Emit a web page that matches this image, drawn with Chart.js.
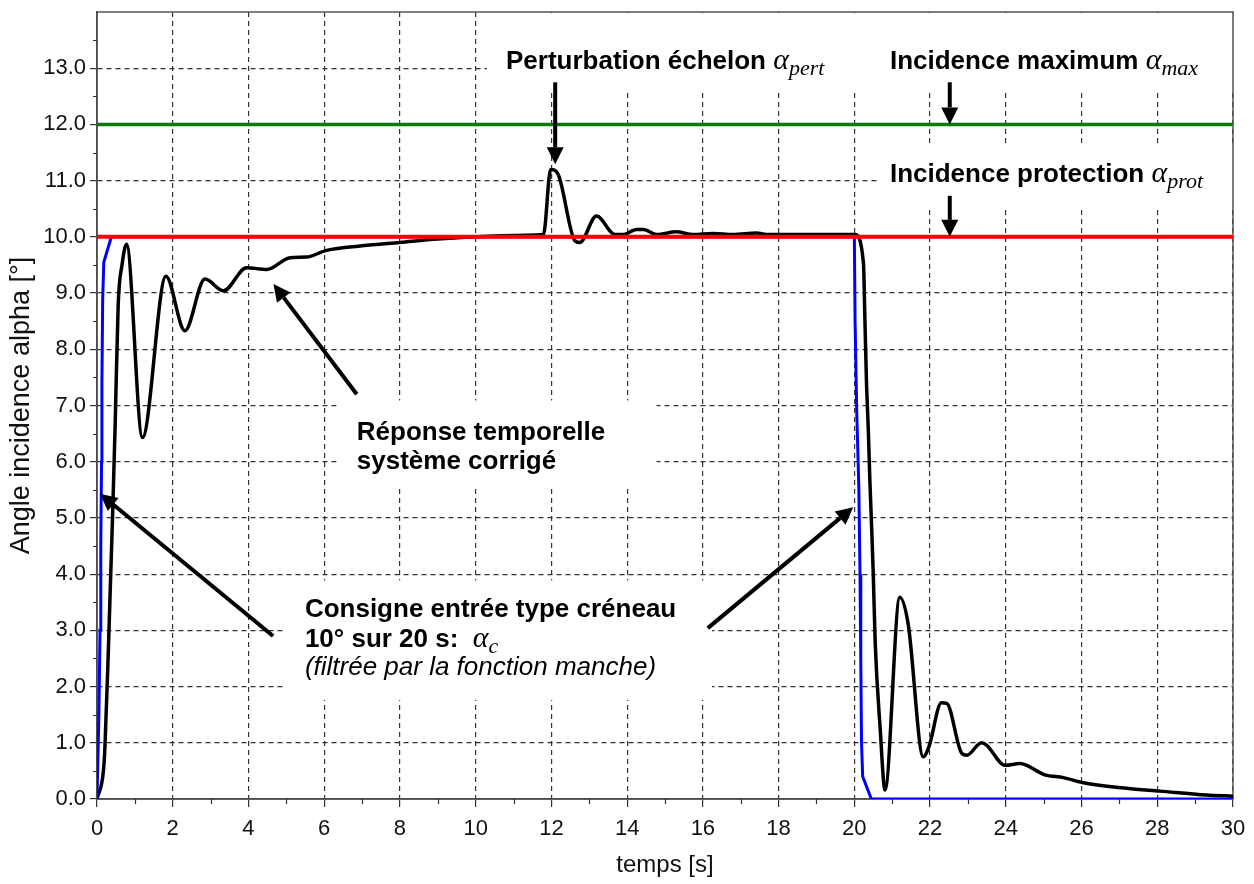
<!DOCTYPE html>
<html>
<head>
<meta charset="utf-8">
<script src="https://cdn.jsdelivr.net/npm/chart.js@4.4.0/dist/chart.umd.min.js"></script>
<style>
  html, body { margin: 0; padding: 0; background: #fff; }
</style>
</head>
<body>
<canvas id="myChart" width="1254" height="884"></canvas>
<script>
// response of the corrected system (black curve)
const timeResponse = [0, 0.17, 0.21, 0.3, 0.36, 0.41, 0.48, 0.56, 0.66, 0.78, 1.2, 1.82, 2.32, 2.85, 3.34, 3.95, 4.48,
  5.1, 5.53, 6.06, 7.0, 8.0, 9.0, 10.0, 10.7, 11.79, 11.98, 12.18, 12.62, 12.75, 13.19, 13.68, 13.9, 14.25, 14.43,
  14.78, 15.3, 15.74, 16.27, 16.8, 17.42, 17.68, 20.02, 20.24, 20.28, 20.32, 20.37, 20.41, 20.46, 20.5, 20.55,
  20.68, 20.81, 21.2, 21.42, 21.82, 21.97, 22.3, 22.44, 22.84, 22.97, 23.36, 23.49, 23.98, 24.37, 25.03, 25.52,
  26.05, 27.19, 28.07, 29.3, 30]
const alphaResponse = [0, 0.5, 0.93, 2.65, 3.95, 5.0, 6.67, 8.8, 9.5, 9.87, 6.43, 9.3, 8.33, 9.25, 9.04, 9.45, 9.42,
  9.63, 9.64, 9.76, 9.84, 9.9, 9.96, 10.0, 10.02, 10.04, 11.2, 11.11, 9.93, 9.9, 10.37, 10.04, 10.04, 10.13, 10.13,
  10.04, 10.09, 10.04, 10.06, 10.04, 10.07, 10.04, 10.04, 9.54, 8.51, 7.44, 6.55, 5.67, 4.78, 4.0, 2.8,
  1.28, 0.16, 3.59, 3.12, 0.75, 0.93, 1.71, 1.7, 0.81, 0.78, 1.0, 0.96, 0.6, 0.63, 0.43, 0.38,
  0.29, 0.19, 0.14, 0.07, 0.05]

// filtered step input (blue curve)
const timeConsigne = [0, 0.05, 0.08, 0.1, 0.12, 0.13, 0.15, 0.18, 0.38, 20, 20.02, 20.06, 20.12, 20.15, 20.17, 20.19, 20.22, 20.45, 30]
const alphaConsigne = [0, 1.5, 3, 4.5, 6, 7.4, 8.9, 9.55, 10, 10, 8.5, 7, 5.5, 4, 2.5, 1.0, 0.4, 0, 0]

const ALPHA_PROT = 10
const ALPHA_MAX = 12
const timeRange = [0, 30]
const alphaRange = [0, 14]

const toPoints = (xs, ys) => xs.map((x, i) => ({x: x, y: ys[i]}))

const FONT = "'Liberation Sans', Arial, sans-serif"
const MATH = "'Liberation Serif', 'DejaVu Serif', serif"
Chart.defaults.font.family = FONT

// annotation boxes / arrows / labels, in data units
const whiteBoxes = [
  [10.3, 13.98, 30, 12.56],
  [20.62, 11.65, 30, 10.55],
  [6.33, 7.09, 14.78, 5.54],
  [4.91, 3.89, 16.24, 1.76]
]
const arrows = [
  [6.86, 7.2, 4.66, 9.16],
  [4.65, 2.9, 0.08, 5.43],
  [16.13, 3.04, 19.97, 5.19],
  [12.1, 12.75, 12.1, 11.29],
  [22.52, 12.75, 22.52, 12.0],
  [22.52, 10.73, 22.52, 10.0]
]
const bold = 'bold 26px ' + FONT
const alpha = 'italic 30px ' + MATH
const sub = 'italic 22px ' + MATH
const labels = [
  {t: 10.8, v: 12.98, parts: [['Perturbation échelon ', bold, 0], ['α', alpha, 0], ['pert', sub, 6]]},
  {t: 20.94, v: 12.98, parts: [['Incidence maximum ', bold, 0], ['α', alpha, 0], ['max', sub, 6]]},
  {t: 20.94, v: 10.97, parts: [['Incidence protection ', bold, 0], ['α', alpha, 0], ['prot', sub, 6]]},
  {t: 6.86, v: 6.38, parts: [['Réponse temporelle', bold, 0]]},
  {t: 6.86, v: 5.87, parts: [['système corrigé', bold, 0]]},
  {t: 5.49, v: 3.23, parts: [['Consigne entrée type créneau', bold, 0]]},
  {t: 5.49, v: 2.71, parts: [['10° sur 20 s:  ', bold, 0], ['α', alpha, 0], ['c', sub, 6]]},
  {t: 5.49, v: 2.2, parts: [['(filtrée par la fonction manche)', 'italic 26px ' + FONT, 0]]}
]

function drawArrow(ctx, x1, y1, x2, y2) {
  const ang = Math.atan2(y2 - y1, x2 - x1)
  const len = 17, half = 8.5
  const bx = x2 - len * Math.cos(ang), by = y2 - len * Math.sin(ang)
  ctx.strokeStyle = '#000'
  ctx.fillStyle = '#000'
  ctx.lineWidth = 4
  ctx.beginPath()
  ctx.moveTo(x1, y1)
  ctx.lineTo(bx, by)
  ctx.stroke()
  ctx.beginPath()
  ctx.moveTo(x2, y2)
  ctx.lineTo(bx + half * Math.sin(ang), by - half * Math.cos(ang))
  ctx.lineTo(bx - half * Math.sin(ang), by + half * Math.cos(ang))
  ctx.closePath()
  ctx.fill()
}

const annotationPlugin = {
  id: 'annotations',
  beforeDatasetsDraw(chart) {
    const {ctx, chartArea, scales: {x, y}} = chart
    ctx.save()
    ctx.beginPath()
    ctx.rect(chartArea.left, chartArea.top, chartArea.width, chartArea.height)
    ctx.clip()
    ctx.fillStyle = '#fff'
    whiteBoxes.forEach(b => {
      const x1 = x.getPixelForValue(b[0]), y1 = y.getPixelForValue(b[1])
      const x2 = x.getPixelForValue(b[2]), y2 = y.getPixelForValue(b[3])
      ctx.fillRect(x1, y1, x2 - x1, y2 - y1)
    })
    ctx.restore()

    // frame + minor ticks
    ctx.save()
    ctx.strokeStyle = '#555'
    ctx.lineWidth = 1.5
    ctx.strokeRect(chartArea.left, chartArea.top, chartArea.width, chartArea.height)
    ctx.strokeStyle = '#333'
    ctx.lineWidth = 1.2
    ctx.beginPath()
    for (let v = 0.5; v < alphaRange[1]; v += 1) {
      const py = Math.round(y.getPixelForValue(v)) + 0.5
      ctx.moveTo(chartArea.left - 4, py)
      ctx.lineTo(chartArea.left, py)
    }
    for (let t = 1; t < timeRange[1]; t += 2) {
      const pxx = Math.round(x.getPixelForValue(t)) + 0.5
      ctx.moveTo(pxx, chartArea.bottom)
      ctx.lineTo(pxx, chartArea.bottom + 5)
    }
    ctx.stroke()
    ctx.restore()
  },
  afterDatasetsDraw(chart) {
    const {ctx, scales: {x, y}} = chart
    ctx.save()
    arrows.forEach(a => drawArrow(ctx, x.getPixelForValue(a[0]), y.getPixelForValue(a[1]),
      x.getPixelForValue(a[2]), y.getPixelForValue(a[3])))
    ctx.fillStyle = '#000'
    ctx.textBaseline = 'alphabetic'
    ctx.textAlign = 'left'
    labels.forEach(l => {
      let cx = x.getPixelForValue(l.t)
      const cy = y.getPixelForValue(l.v)
      l.parts.forEach(p => {
        ctx.font = p[1]
        ctx.fillText(p[0], cx, cy + p[2])
        cx += ctx.measureText(p[0]).width
      })
    })
    ctx.restore()
  }
}

const noPad = s => { s.paddingTop = 0; s.paddingBottom = 0; s.paddingLeft = 0; s.paddingRight = 0 }

const ctx = document.getElementById('myChart').getContext('2d')
const chart = new Chart(ctx, {
  type: 'line',
  data: {
    datasets: [
      {
        label: 'alpha max',
        data: toPoints(timeRange, [ALPHA_MAX, ALPHA_MAX]),
        borderColor: '#0a7a0a',
        borderWidth: 3.5,
        pointRadius: 0,
        order: 0
      },
      {
        label: 'alpha prot',
        data: toPoints(timeRange, [ALPHA_PROT, ALPHA_PROT]),
        borderColor: '#ff0000',
        borderWidth: 4,
        pointRadius: 0,
        order: 1
      },
      {
        label: 'consigne',
        data: toPoints(timeConsigne, alphaConsigne),
        borderColor: '#0000ff',
        borderWidth: 3,
        pointRadius: 0,
        order: 2
      },
      {
        label: 'reponse',
        data: toPoints(timeResponse, alphaResponse),
        borderColor: '#000',
        borderWidth: 3.5,
        pointRadius: 0,
        cubicInterpolationMode: 'monotone',
        order: 3
      }
    ]
  },
  options: {
    responsive: false,
    animation: false,
    devicePixelRatio: 1,
    layout: {padding: {left: 0, top: 12, right: 21, bottom: 0}},
    plugins: {legend: {display: false}, tooltip: {enabled: false}},
    scales: {
      x: {
        type: 'linear',
        min: timeRange[0],
        max: timeRange[1],
        afterFit: s => { s.height = 85; noPad(s) },
        ticks: {stepSize: 2, color: '#111', font: {size: 22}, padding: 9, maxRotation: 0},
        grid: {color: '#333', lineWidth: 1.2, tickLength: 8, tickBorderDash: [], tickColor: '#333'},
        border: {dash: [5, 4], color: '#333', width: 1.5},
        title: {display: true, text: 'temps [s]', color: '#111', font: {size: 24}, padding: {top: 22}}
      },
      y: {
        min: alphaRange[0],
        max: alphaRange[1],
        afterFit: s => { s.width = 97; noPad(s) },
        afterBuildTicks: s => { s.ticks = s.ticks.filter(t => t.value < alphaRange[1]) },
        ticks: {stepSize: 1, color: '#111', font: {size: 22}, padding: 4, callback: v => v.toFixed(1)},
        grid: {color: '#333', lineWidth: 1.2, tickLength: 7, tickBorderDash: [], tickColor: '#333'},
        border: {dash: [5, 4], color: '#333', width: 1.5},
        title: {display: true, text: 'Angle incidence alpha [°]', color: '#111', font: {size: 27}, padding: {top: 5}}
      }
    }
  },
  plugins: [annotationPlugin]
})
</script>
</body>
</html>
